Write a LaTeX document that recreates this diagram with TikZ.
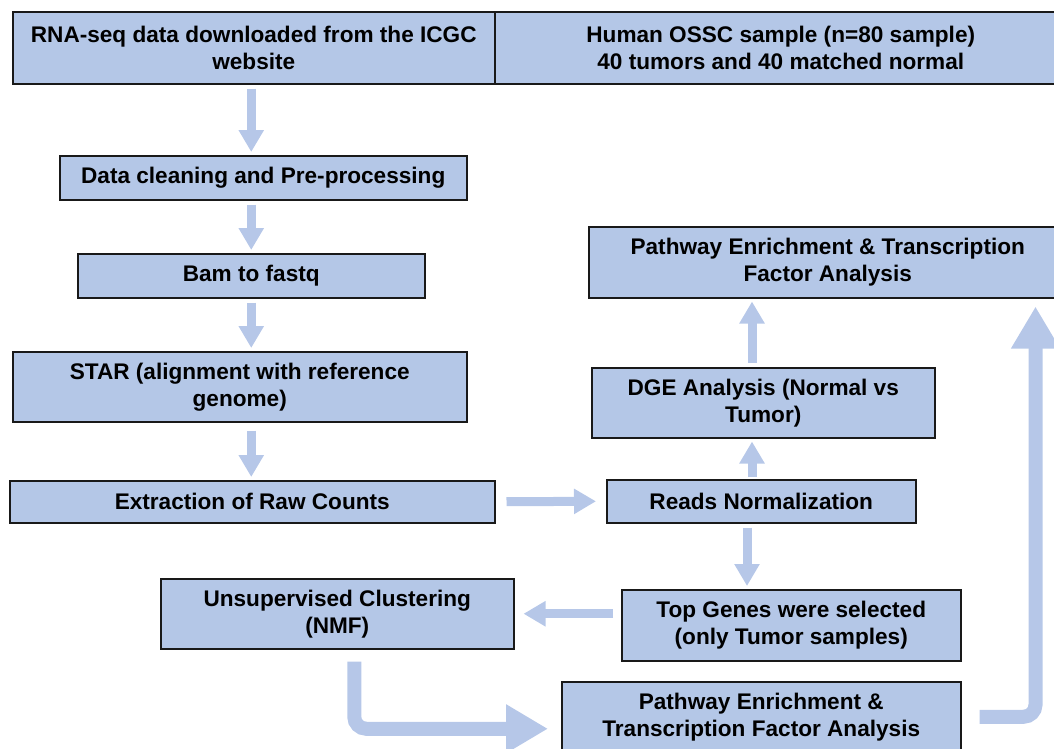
\documentclass[tikz,border=0pt]{standalone}
\usepackage{fontspec}
\setmainfont{Liberation Sans}
\usetikzlibrary{arrows.meta}
\definecolor{boxblue}{RGB}{180,199,231}
\definecolor{arrblue}{RGB}{182,199,232}

\begin{document}
\begin{tikzpicture}[x=1pt, y=-1pt,
  box/.style={draw=black!90, line width=1.5pt, fill=boxblue, anchor=north west, align=center, inner sep=2pt, font=\fontsize{22.6}{27}\selectfont\bfseries},
  arrow/.style={draw=arrblue, line width=9pt, -{Triangle[length=22pt, width=24pt]}, shorten <=4pt, shorten >=3pt},
  bigarrow/.style={draw=arrblue, line width=14pt, -{Triangle[length=42pt, width=46pt]}, rounded corners=12pt}
]
\useasboundingbox (0,0) rectangle (1054,748);
\node[box, minimum width=482pt, minimum height=72pt] (rna) at (12,11) {RNA-seq data downloaded from the ICGC\\website};
\node[box, minimum width=572pt, minimum height=72pt] (ossc) at (494,11) {Human OSSC sample (n=80 sample)\\40 tumors and 40 matched normal};
\node[box, minimum width=407pt, minimum height=44pt] (clean) at (59,155) {Data cleaning and Pre-processing};
\node[box, minimum width=347pt, minimum height=44pt] (bam) at (77,253) {Bam to fastq};
\node[box, minimum width=454pt, minimum height=70pt] (star) at (12,351) {STAR (alignment with reference\\genome)};
\node[box, minimum width=485pt, minimum height=42pt] (raw) at (9,480) {Extraction of Raw Counts};
\node[box, minimum width=309pt, minimum height=43pt] (norm) at (606,479) {Reads Normalization};
\node[box, minimum width=343pt, minimum height=70pt] (dge) at (591,367) {DGE Analysis (Normal vs\\Tumor)};
\node[box, minimum width=478pt, minimum height=71pt] (path1) at (588,226) {Pathway Enrichment \& Transcription\\Factor Analysis};
\node[box, minimum width=339pt, minimum height=71pt] (topg) at (621,589) {Top Genes were selected\\(only Tumor samples)};
\node[box, minimum width=353pt, minimum height=70pt] (nmf) at (160,578) {Unsupervised Clustering\\(NMF)};
\node[box, minimum width=399pt, minimum height=70pt] (path2) at (561,681) {Pathway Enrichment \&\\Transcription Factor Analysis};
\coordinate (colR) at (752,0);
\coordinate (colD) at (747,0);

% left column
\draw[arrow] (rna.south -| bam.north) -- (clean.north -| bam.north);
\draw[arrow] (clean.south -| bam.north) -- (bam.north);
\draw[arrow] (bam.south) -- (star.north -| bam.north);
\draw[arrow, shorten <=8pt] (star.south -| bam.north) -- (raw.north -| bam.north);
\draw[arrow, shorten <=11pt, shorten >=10pt] (raw.east) -- (norm.west);

% right column
\draw[arrow, shorten <=2pt] (norm.north -| colR) -- (dge.south -| colR);
\draw[arrow] (dge.north -| colR) -- (path1.south -| colR);
\draw[arrow] (norm.south -| colD) -- (topg.north -| colD);
\draw[arrow, shorten <=8pt, shorten >=9pt] (topg.west |- nmf.east) -- (nmf.east);

% big bent arrows
\draw[bigarrow, shorten <=12pt, shorten >=13pt] ([xshift=17pt]nmf.south) |- ([yshift=-12pt]path2.west);
\draw[bigarrow, shorten <=18pt, shorten >=8pt] (path2.east) -| ([xshift=-32pt]path1.south east);
\end{tikzpicture}
\end{document}
